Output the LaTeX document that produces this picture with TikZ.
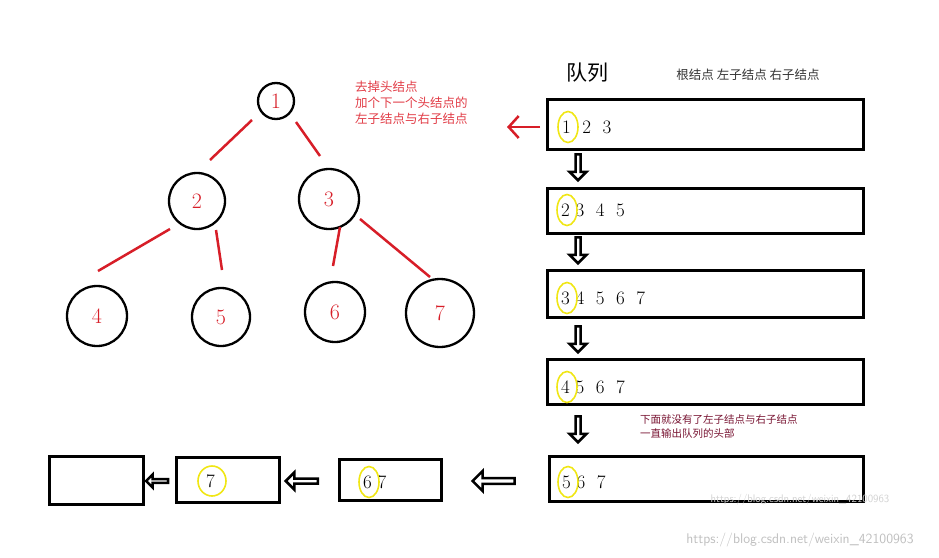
\documentclass[tikz,border=0pt]{standalone}
\usepackage{fontspec}
\newfontfamily\cjk{Noto Sans CJK SC}
\usetikzlibrary{shapes.arrows,shapes.geometric,arrows.meta}
\definecolor{tred}{RGB}{215,30,40}
\definecolor{txtred}{RGB}{225,60,70}
\definecolor{purp}{RGB}{120,20,50}
\definecolor{yel}{RGB}{240,230,20}
\begin{document}
\begin{tikzpicture}[x=1pt,y=-1pt,
  tn/.style={circle,draw,line width=2.3pt,text=tred,font=\fontsize{22}{22}\selectfont,inner sep=0pt},
  qbox/.style={draw,line width=3pt,anchor=north west},
  dig/.style={font=\fontsize{19}{19}\selectfont,anchor=west,inner sep=0pt},
  yc/.style={draw=yel,line width=1.6pt,ellipse,minimum width=20pt,minimum height=31pt,inner sep=0pt},
  harr/.style={single arrow,draw,line width=2.5pt,minimum height=#1,minimum width=17pt,single arrow head extend=3pt,inner sep=0pt},
  edge/.style={tred,line width=2.5pt}]
\useasboundingbox (0,0) rectangle (939,557);
% tree
\node[tn,minimum size=36pt] (n1) at (276,101) {1};
\node[tn,minimum size=56pt] (n2) at (197,201) {2};
\node[tn,minimum size=60pt] (n3) at (329,199) {3};
\node[tn,minimum size=60pt] (n4) at (97,316) {4};
\node[tn,minimum size=58pt] (n5) at (221,317) {5};
\node[tn,minimum size=60pt] (n6) at (335,312) {6};
\node[tn,minimum size=68pt] (n7) at (440,313) {7};
\draw[edge] (252,120) -- (210,160);
\draw[edge] (296,122) -- (320,156);
\draw[edge] (170,229) -- (98,271);
\draw[edge] (216,230) -- (222,270);
\draw[edge] (340,227) -- (333,266);
\draw[edge] (360,219) -- (430,277);
% title
\node[font=\cjk\fontsize{21}{21}\selectfont] (t) at (587,73) {队列};
\node[font=\cjk\fontsize{12.5}{12.5}\selectfont,text=black!80] (t2) at (748,75) {根结点\ 左子结点\ 右子结点};
\node[font=\cjk\fontsize{12.5}{16}\selectfont,text=txtred,align=left,anchor=north west,inner sep=0pt] (rt) at (355,81) {去掉头结点\\加个下一个头结点的\\左子结点与右子结点};
\node[font=\cjk\fontsize{10.5}{14}\selectfont,text=purp,align=left,anchor=north west,inner sep=0pt] (pt) at (640,414) {下面就没有了左子结点与右子结点\\一直输出队列的头部};
% queue boxes
\node[qbox,minimum width=316pt,minimum height=50pt] (b1) at (546,98) {};
\node[qbox,minimum width=316pt,minimum height=45pt] (b2) at (546,187) {};
\node[qbox,minimum width=316pt,minimum height=47pt] (b3) at (546,269) {};
\node[qbox,minimum width=316pt,minimum height=45pt] (b4) at (546,358) {};
\node[qbox,minimum width=314pt,minimum height=45pt] (b5) at (548,455) {};
\node[qbox,minimum width=102pt,minimum height=41pt] (b6) at (338,458) {};
\node[qbox,minimum width=103pt,minimum height=45pt] (b7) at (175,456) {};
\node[qbox,minimum width=94pt,minimum height=48pt] (b8) at (48,455) {};
% digits
\node[dig] (d1) at (562,127) {1\ \ 2\ \ 3};
\node[dig] (d2) at (561,210) {2\ 3\ \ 4\ \ 5};
\node[dig] (d3) at (561,298) {3\ 4\ \ 5\ \ 6\ \ 7};
\node[dig] (d4) at (561,387) {4\ 5\ \ 6\ \ 7};
\node[dig] (d5) at (562,482) {5\ 6\ \ 7};
\node[dig] (d6) at (363,482) {6\ 7};
\node[dig] (d7) at (206,481) {7};
\node[yc] (y1) at (568,127) {};
\node[yc] (y2) at (567,210) {};
\node[yc] (y3) at (567,298) {};
\node[yc] (y4) at (567,387) {};
\node[yc] (y5) at (568,482) {};
\node[yc] (y6) at (369,482) {};
\node[yc,minimum width=28pt,minimum height=30pt] (y7) at (212,481) {};
% arrows
\node[harr=26pt,shape border rotate=270] (a1) at (578,166) {};
\node[harr=26pt,shape border rotate=270] (a2) at (578,249) {};
\node[harr=26pt,shape border rotate=270] (a3) at (578,338) {};
\node[harr=26pt,shape border rotate=270] (a4) at (578,428) {};
\node[harr=42pt,shape border rotate=180,minimum width=20pt] (a5) at (495,481) {};
\node[harr=32pt,shape border rotate=180] (a6) at (303,481) {};
\node[harr=22pt,shape border rotate=180,minimum width=13pt] (a7) at (158,481) {};
\coordinate (ra) at (540,127);
\coordinate (rb) at (507,127);
\draw[tred,line width=2.5pt,-{Straight Barb[length=10pt,width=22pt]}] (ra) -- (rb);
% watermarks
\node[text=black!18,font=\sffamily\fontsize{11}{11}\selectfont] (w1) at (800,500) {https://blog.csdn.net/weixin\_42100963};
\node[text=black!25,font=\sffamily\fontsize{14}{14}\selectfont] (w2) at (800,540) {https://blog.csdn.net/weixin\_42100963};
\end{tikzpicture}
\end{document}
